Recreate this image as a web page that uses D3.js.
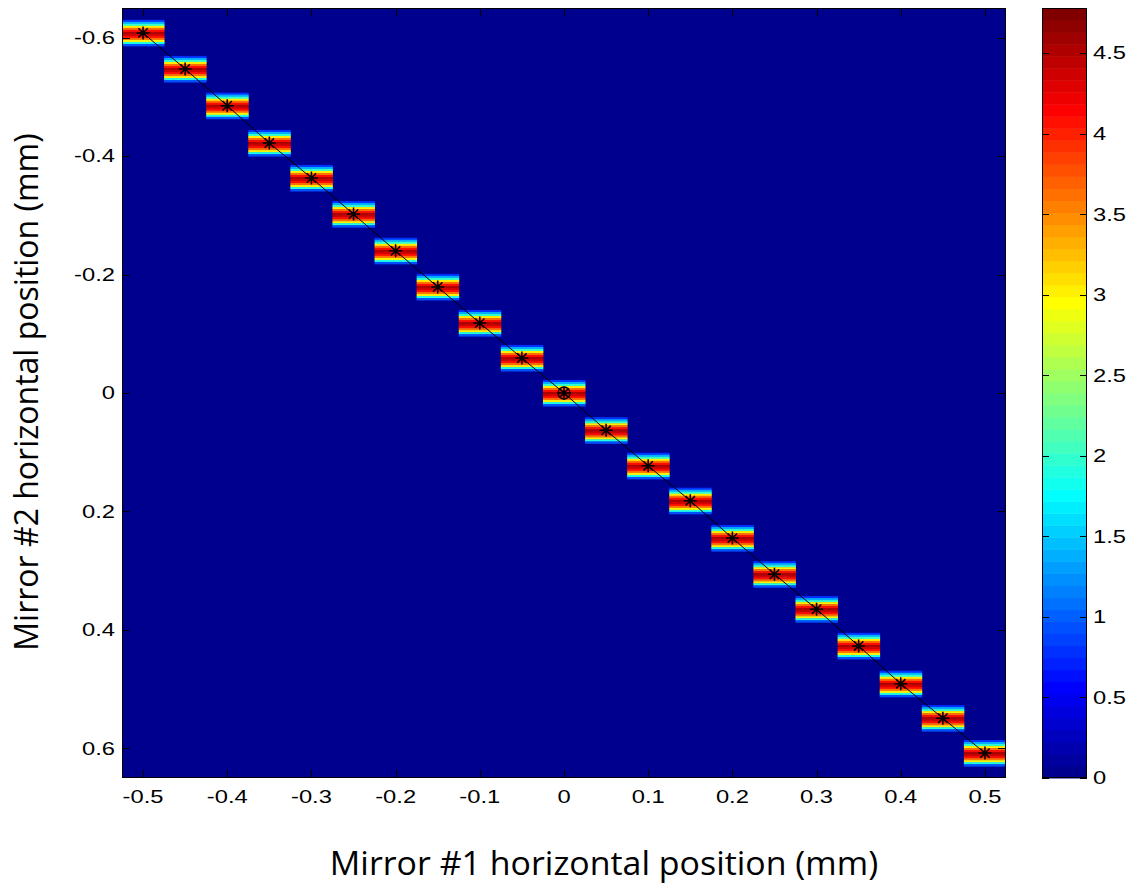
<!DOCTYPE html>
<html>
<head>
<meta charset="utf-8">
<script src="https://cdn.jsdelivr.net/npm/d3@7"></script>
<style>
  html, body { margin: 0; padding: 0; background: #fff; }
  svg { display: block; }
  .tick-label { font-family: "Liberation Sans", Arial, sans-serif; font-size: 18px; fill: #000; }
  .axis-title { font-family: "Open Sans", "Noto Sans", sans-serif; font-size: 32px; fill: #000; }
</style>
</head>
<body>
<svg id="chart" width="1130" height="886"></svg>
<script>
// Scan positions of mirror #1 (mm) and the matching mirror #2 positions (mm)
const scanX = [-0.5, -0.45, -0.4, -0.35, -0.3, -0.25, -0.2, -0.15, -0.1, -0.05, 0,
               0.05, 0.1, 0.15, 0.2, 0.25, 0.3, 0.35, 0.4, 0.45, 0.5];
const scanY = [-0.608, -0.547, -0.485, -0.422, -0.363, -0.302, -0.240, -0.179, -0.118, -0.059, 0,
               0.063, 0.123, 0.182, 0.245, 0.306, 0.365, 0.427, 0.491, 0.549, 0.608];
// Signal profile across mirror #2 at each scan step (top to bottom rows)
const profileRows = [0.8, 1.4, 2.0, 3.0, 3.6, 4.1, 4.5, 4.4, 4.1, 3.6, 3.0, 1.9, 0.9];
const rowStep = 0.0034;   // mm per profile row
const colWidth = 0.05;    // mm per scan column

// Axis ticks
const xTicks = [-0.5, -0.4, -0.3, -0.2, -0.1, 0, 0.1, 0.2, 0.3, 0.4, 0.5];
const yTicks = [-0.6, -0.4, -0.2, 0, 0.2, 0.4, 0.6];
const cTicks = [0, 0.5, 1, 1.5, 2, 2.5, 3, 3.5, 4, 4.5];
const cMax = 4.78;

const xTitle = "Mirror #1 horizontal position (mm)";
const yTitle = "Mirror #2 horizontal position (mm)";

// MATLAB-style jet colormap with m levels
function jet(m) {
  const n = Math.ceil(m / 4);
  const u = [];
  for (let i = 1; i <= n; i++) u.push(i / n);
  for (let i = 0; i < n - 1; i++) u.push(1);
  for (let i = n; i >= 1; i--) u.push(i / n);
  const g0 = Math.ceil(n / 2) - (m % 4 === 1 ? 1 : 0);
  const J = Array.from({length: m}, () => [0, 0, 0]);
  u.forEach((val, k) => {
    const g = g0 + k + 1, r = g + n, b = g - n;
    if (g >= 1 && g <= m) J[g - 1][1] = val;
    if (r >= 1 && r <= m) J[r - 1][0] = val;
    if (b >= 1 && b <= m) J[b - 1][2] = val;
  });
  return J.map(c => d3.rgb(c[0] * 255, c[1] * 255, c[2] * 255).formatHex());
}
const jet64 = jet(64);
const color = d3.scaleQuantize().domain([0, cMax]).range(jet64);

const plot = {left: 122, top: 8, right: 1006, bottom: 778};
const cbar = {left: 1042, width: 45, top: 8, bottom: 778};
const tickLen = 8;
const labelStretch = 1.32;   // tick labels are drawn slightly widened

const svg = d3.select("#chart");

const x = d3.scaleLinear().domain([-0.525, 0.525]).range([plot.left, plot.right]);
const y = d3.scaleLinear().domain([-0.65, 0.65]).range([plot.top, plot.bottom]);
const c = d3.scaleLinear().domain([0, cMax]).range([cbar.bottom, cbar.top]);

svg.append("defs").html(`
  <clipPath id="plotClip"><rect x="${plot.left}" y="${plot.top}" width="${plot.right - plot.left}" height="${plot.bottom - plot.top}"/></clipPath>
  <filter id="soft" x="-5%" y="-5%" width="110%" height="110%"><feGaussianBlur stdDeviation="0.6"/></filter>
`);

// Background of the image (zero signal)
const img = svg.append("g").attr("clip-path", "url(#plotClip)");
img.append("rect")
  .attr("x", plot.left).attr("y", plot.top)
  .attr("width", plot.right - plot.left).attr("height", plot.bottom - plot.top)
  .attr("fill", color(0));

// Heat-map cells: one column per scan step, rows follow the profile
const cells = [];
scanX.forEach((sx, i) => {
  const n = profileRows.length;
  profileRows.forEach((v, j) => {
    const y0 = scanY[i] + (j - n / 2) * rowStep;
    cells.push({x0: sx - colWidth / 2, x1: sx + colWidth / 2, y0, y1: y0 + rowStep, v});
  });
});
img.append("g").attr("filter", "url(#soft)")
  .selectAll("rect").data(cells).join("rect")
  .attr("x", d => x(d.x0))
  .attr("y", d => y(d.y0))
  .attr("width", d => x(d.x1) - x(d.x0) + 0.4)
  .attr("height", d => y(d.y1) - y(d.y0) + 0.4)
  .attr("fill", d => color(d.v));

// Trace through the scan points
const pts = scanX.map((sx, i) => [sx, scanY[i]]);
img.append("path")
  .attr("d", d3.line().x(d => x(d[0])).y(d => y(d[1]))(pts))
  .attr("fill", "none").attr("stroke", "#000").attr("stroke-width", 1);

// Asterisk markers
const r = 6.5;
const k = r * 0.72;
const star = `M${-r},0H${r}M0,${-r}V${r}M${-k},${-k}L${k},${k}M${-k},${k}L${k},${-k}`;
img.selectAll("path.star").data(pts).join("path")
  .attr("class", "star")
  .attr("transform", d => `translate(${x(d[0])},${y(d[1])})`)
  .attr("d", star)
  .attr("fill", "none").attr("stroke", "#000").attr("stroke-width", 1.5);
// Origin marker ring
img.append("circle")
  .attr("cx", x(0)).attr("cy", y(0)).attr("r", 6)
  .attr("fill", "none").attr("stroke", "#000").attr("stroke-width", 1.3);

// Axes box and inward ticks on all four sides
const ax = svg.append("g").attr("stroke", "#000").attr("stroke-width", 1).attr("fill", "none");
ax.append("rect")
  .attr("x", plot.left + 0.5).attr("y", plot.top + 0.5)
  .attr("width", plot.right - plot.left - 1).attr("height", plot.bottom - plot.top - 1);
xTicks.forEach(t => {
  const px = Math.round(x(t)) + 0.5;
  ax.append("line").attr("x1", px).attr("x2", px).attr("y1", plot.bottom).attr("y2", plot.bottom - tickLen);
  ax.append("line").attr("x1", px).attr("x2", px).attr("y1", plot.top).attr("y2", plot.top + tickLen);
});
yTicks.forEach(t => {
  const py = Math.round(y(t)) + 0.5;
  ax.append("line").attr("y1", py).attr("y2", py).attr("x1", plot.left).attr("x2", plot.left + tickLen);
  ax.append("line").attr("y1", py).attr("y2", py).attr("x1", plot.right).attr("x2", plot.right - tickLen);
});

const fmt = v => (Math.abs(v) < 1e-9 ? "0" : String(+v.toFixed(2)));

svg.append("g").selectAll("text").data(xTicks).join("text")
  .attr("class", "tick-label")
  .attr("transform", d => `translate(${x(d)},803) scale(${labelStretch},1)`)
  .attr("text-anchor", "middle")
  .text(fmt);

svg.append("g").selectAll("text").data(yTicks).join("text")
  .attr("class", "tick-label")
  .attr("transform", d => `translate(115,${y(d)}) scale(${labelStretch},1)`)
  .attr("dy", "0.35em")
  .attr("text-anchor", "end")
  .text(fmt);

// Colorbar
const levels = d3.range(64);
const band = cMax / 64;
svg.append("g").selectAll("rect").data(levels).join("rect")
  .attr("x", cbar.left)
  .attr("y", i => c((i + 1) * band))
  .attr("width", cbar.width)
  .attr("height", i => c(i * band) - c((i + 1) * band) + 0.5)
  .attr("fill", i => jet64[i]);
const cb = svg.append("g").attr("stroke", "#000").attr("stroke-width", 1).attr("fill", "none");
cb.append("rect")
  .attr("x", cbar.left + 0.5).attr("y", cbar.top + 0.5)
  .attr("width", cbar.width - 1).attr("height", cbar.bottom - cbar.top - 1);
cTicks.forEach(t => {
  const py = Math.round(c(t)) + 0.5;
  cb.append("line").attr("y1", py).attr("y2", py).attr("x1", cbar.left).attr("x2", cbar.left + 7);
  cb.append("line").attr("y1", py).attr("y2", py).attr("x1", cbar.left + cbar.width).attr("x2", cbar.left + cbar.width - 7);
});
svg.append("g").selectAll("text").data(cTicks).join("text")
  .attr("class", "tick-label")
  .attr("transform", d => `translate(${cbar.left + cbar.width + 6},${c(d)}) scale(${labelStretch},1)`)
  .attr("dy", "0.35em")
  .text(fmt);

// Axis titles
svg.append("text").attr("class", "axis-title")
  .attr("transform", "translate(604,875) scale(1.06,1)")
  .attr("text-anchor", "middle")
  .text(xTitle);
svg.append("text").attr("class", "axis-title")
  .attr("transform", "translate(38,392) rotate(-90)")
  .attr("text-anchor", "middle")
  .text(yTitle);
</script>
</body>
</html>
